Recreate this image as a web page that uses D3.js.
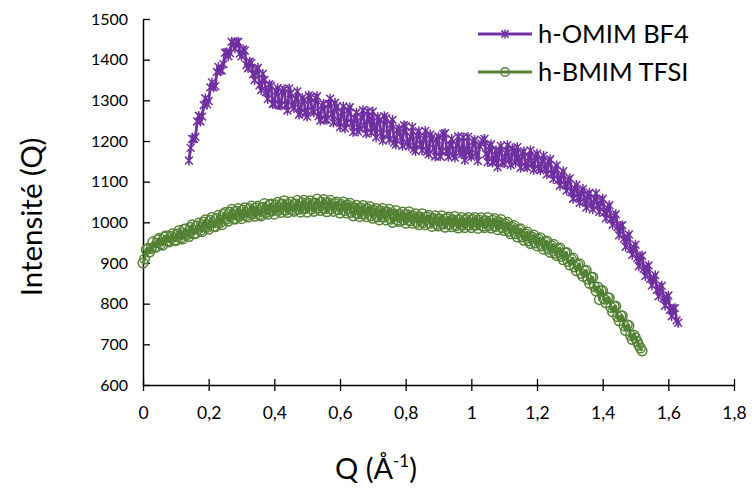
<!DOCTYPE html>
<html><head><meta charset="utf-8">
<script src="https://cdn.jsdelivr.net/npm/d3@7"></script>
<style>
html,body{margin:0;padding:0;background:#fff;}
svg text{font-family:Lato,"Open Sans",sans-serif;fill:#000;}
</style></head>
<body><svg id="c" width="752" height="488"></svg>
<script>
// ---- data ----
const seriesNames = ["h-OMIM BF4", "h-BMIM TFSI"];
// h-OMIM BF4: readings at Q = 0.14, 0.15, ... 1.63
const omimStart = 0.14, omimStep = 0.01;
const omimI = [
1152,1205,1210,1262,1260,1305,1298,1344,1335,1382,
1373,1417,1408,1444,1428,1444,1408,1422,1379,1392,
1350,1380,1325,1350,1303,1336,1292,1330,1287,1327,
1275,1318,1281,1322,1270,1300,1260,1307,1270,1310,
1250,1291,1252,1304,1245,1285,1234,1285,1243,1283,
1222,1270,1230,1276,1218,1254,1272,1209,1252,1201,
1256,1203,1252,1191,1231,1188,1236,1187,1234,1175,
1224,1177,1225,1167,1209,1162,1211,1173,1219,1161,
1205,1159,1211,1167,1153,1210,1161,1203,1151,1194,
1205,1148,1192,1152,1136,1188,1145,1190,1141,1177,
1185,1134,1175,1135,1177,1129,1169,1128,1164,1118,
1155,1107,1140,1090,1126,1078,1108,1058,1092,1048,
1082,1036,1073,1032,1071,1026,1058,1010,1042,994,
1020,968,993,940,970,920,945,892,918,868,
894,845,870,818,844,795,820,769,789,753
];
// h-OMIM BF4: readings at Q = 0.145, 0.155, ... 1.625
const omimMidStart = 0.145;
const omimMid = [
1183,1205,1248,1248,1288,1290,1332,1332,1370,1374,
1389,1418,1416,1439,1443,1415,1425,1387,1395,1364,
1375,1337,1365,1320,1339,1291,1322,1288,1323,1289,
1329,1287,1303,1265,1306,1269,1312,1275,1305,1261,
1287,1253,1291,1266,1294,1250,1270,1231,1276,1245,
1256,1223,1259,1237,1273,1221,1233,1259,1220,1261,
1218,1241,1196,1227,1209,1239,1194,1211,1180,1214,
1192,1206,1174,1216,1182,1204,1162,1217,1176,1190,
1166,1189,1172,1209,1176,1165,1198,1169,1188,1201,
1168,1187,1147,1177,1177,1147,1170,1153,1182,1147,
1153,1169,1138,1160,1144,1160,1133,1152,1134,1149,
1120,1131,1104,1118,1094,1104,1074,1084,1061,1074,
1052,1066,1043,1058,1041,1053,1024,1035,1007,1016,
988,991,960,964,934,939,912,916,886,890,
861,864,834,840,813,816,785,788,759
];
// h-BMIM TFSI: readings at Q = 0, 0.01, ... 1.52
const bmimStart = 0.0, bmimStep = 0.01;
const bmimI = [
900,933,927,952,939,961,944,967,952,972,
955,980,959,984,965,994,973,998,977,1006,
983,1012,989,1017,994,1024,1003,1032,1008,1034,
1009,1036,1013,1040,1015,1040,1016,1046,1020,1045,
1020,1049,1024,1053,1024,1050,1027,1054,1025,1054,
1025,1053,1027,1057,1029,1056,1026,1054,1027,1050,
1023,1050,1023,1047,1016,1042,1014,1041,1014,1039,
1010,1034,1006,1034,1006,1032,1000,1029,1002,1025,
998,1026,998,1021,994,1021,994,1017,990,1016,
991,1016,988,1013,989,1014,986,1012,987,1012,
987,1012,985,1011,987,1012,986,1009,982,1007,
980,1000,972,992,964,984,956,976,948,969,
942,962,934,954,926,946,918,937,908,926,
895,912,881,898,867,882,850,865,831,810,
832,802,814,780,794,758,770,734,746,712,
716,698,684
];
// h-BMIM TFSI: readings at Q = 0.005, 0.015, ... 1.515
const bmimMidStart = 0.005;
const bmimMid = [
910,936,935,939,957,947,964,954,965,956,
972,962,983,970,987,972,991,980,1001,988,
1005,990,1009,999,1020,1008,1025,1009,1027,1015,
1030,1017,1034,1021,1036,1019,1037,1024,1043,1028,
1043,1030,1045,1030,1044,1031,1045,1032,1048,1034,
1047,1033,1047,1035,1049,1034,1048,1033,1046,1031,
1044,1029,1042,1024,1036,1021,1035,1020,1033,1016,
1029,1013,1028,1013,1025,1008,1021,1006,1019,1006,
1019,1004,1015,1000,1013,1000,1013,998,1009,995,
1008,996,1009,995,1006,992,1006,993,1007,993,
1007,993,1005,991,1004,992,1005,990,1001,987,
996,978,988,972,982,964,972,954,964,949,
958,942,952,934,942,924,934,916,925,904,
909,890,895,874,880,860,865,842,841,831,
811,815,791,793,768,770,746,748,722,723,
707,691
];
const xTicks = [0,0.2,0.4,0.6,0.8,1,1.2,1.4,1.6,1.8];
const yTicks = [600,700,800,900,1000,1100,1200,1300,1400,1500];
const xLabel = "Q (Å";
const xLabelSup = "-1";
const xLabelEnd = ")";
const yLabel = "Intensité (Q)";
const colors = ["#7030A0", "#548235"];

// ---- build ----
function merge(a, aStart, b, bStart, step){
  const pts = a.map((v,i)=>({q:+(aStart+i*step).toFixed(3), v}))
    .concat(b.map((v,i)=>({q:+(bStart+i*step).toFixed(3), v})));
  return pts.sort((p,q)=>p.q-q.q);
}
const omim = merge(omimI, omimStart, omimMid, omimMidStart, omimStep);
const bmim = merge(bmimI, bmimStart, bmimMid, bmimMidStart, bmimStep);

const svg = d3.select("#c");
const L=143, R=734, T=19, B=385;
const x = d3.scaleLinear().domain([0,1.8]).range([L,R]);
const y = d3.scaleLinear().domain([600,1500]).range([B,T]);
const fmt = d => String(d).replace(".", ",");

// axes
const yAx = svg.append("g").attr("transform",`translate(${L},0)`)
  .call(d3.axisLeft(y).tickValues(yTicks).tickSizeInner(7).tickSizeOuter(0).tickPadding(8).tickFormat(d=>d));
yAx.selectAll(".tick line").attr("x2",7);
const xAx = svg.append("g").attr("transform",`translate(0,${B})`)
  .call(d3.axisBottom(x).tickValues(xTicks).tickSizeInner(6).tickSizeOuter(0).tickPadding(16).tickFormat(fmt));
xAx.selectAll(".tick line").attr("y1",-6);
[yAx,xAx].forEach(a=>{
  a.select(".domain").attr("stroke","#000").attr("stroke-width",1.5);
  a.selectAll(".tick line").attr("stroke","#000").attr("stroke-width",1.3);
  a.selectAll(".tick text").attr("fill","#000").style("font-family","Lato");
});
yAx.selectAll(".tick text").attr("font-size",16);
xAx.selectAll(".tick text").attr("font-size",17.5);

// series
const line = d3.line().x(d=>x(d.q)).y(d=>y(d.v));
const starPath = s => `M${-s},${-s}L${s},${s}M${-s},${s}L${s},${-s}M0,${-s-1}L0,${s+1}`;
function drawSeries(data, color, kind){
  const g = svg.append("g");
  g.append("path").datum(data).attr("d",line).attr("fill","none")
    .attr("stroke",color).attr("stroke-width",2.8).attr("stroke-linejoin","round");
  if(kind==="star"){
    g.selectAll("path.m").data(data).join("path").attr("class","m")
      .attr("transform",d=>`translate(${x(d.q)},${y(d.v)})`)
      .attr("d",starPath(3.9)).attr("stroke",color).attr("stroke-width",1.5).attr("fill","none");
  } else {
    g.selectAll("circle").data(data).join("circle")
      .attr("cx",d=>x(d.q)).attr("cy",d=>y(d.v)).attr("r",4.8)
      .attr("fill","none").attr("stroke",color).attr("stroke-width",1.5);
  }
}
drawSeries(omim, colors[0], "star");
drawSeries(bmim, colors[1], "circle");

// legend
const lg = svg.append("g");
[0,1].forEach(i=>{
  const yy = 34 + i*38;
  lg.append("line").attr("x1",478).attr("x2",532).attr("y1",yy).attr("y2",yy)
    .attr("stroke",colors[i]).attr("stroke-width",3);
  if(i===0){
    lg.append("path").attr("transform",`translate(505,${yy})`).attr("d",starPath(3.6))
      .attr("stroke",colors[i]).attr("stroke-width",1.5).attr("fill","none");
  } else {
    lg.append("circle").attr("cx",505).attr("cy",yy).attr("r",4.3)
      .attr("fill","none").attr("stroke",colors[i]).attr("stroke-width",1.4);
  }
  lg.append("text").attr("x",538).attr("y",yy+9).attr("font-size",25.5).text(seriesNames[i]);
});

// axis titles
const xt = svg.append("text").attr("x",0).attr("y",479).attr("font-size",29);
xt.append("tspan").text(xLabel);
xt.append("tspan").attr("font-size",17).attr("dy",-12).text(xLabelSup);
xt.append("tspan").attr("dy",12).text(xLabelEnd);
const w = xt.node().getBBox().width;
xt.attr("x", 376 - w/2);
svg.append("text").attr("transform","translate(42,217) rotate(-90)").attr("text-anchor","middle")
  .attr("font-size",29.5).text(yLabel);
</script></body></html>
